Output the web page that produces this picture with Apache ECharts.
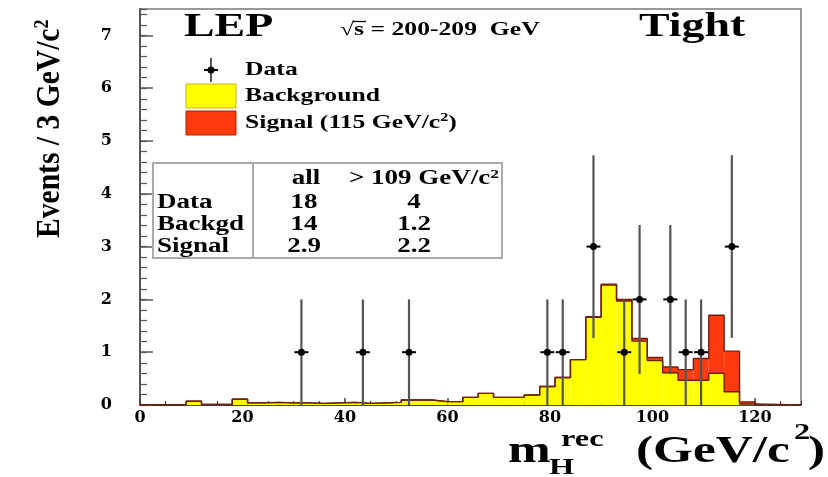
<!DOCTYPE html>
<html>
<head>
<meta charset="utf-8">
<title>LEP Higgs search – reconstructed mass, tight selection</title>
<script src="https://cdn.jsdelivr.net/npm/echarts@6/dist/echarts.min.js"></script>
<style>
  html, body { margin: 0; padding: 0; background: #fff; }
  #chart { width: 828px; height: 477px; }
</style>
</head>
<body>
<div id="chart"></div>
<script>
// Histogram bins (3 GeV/c^2 wide), given by their lower edges
const BIN_WIDTH = 3;
const binLow = [0, 3, 6, 9, 12, 15, 18, 21, 24, 27, 30, 33, 36, 39, 42, 45, 48, 51, 54, 57,
                60, 63, 66, 69, 72, 75, 78, 81, 84, 87, 90, 93, 96, 99, 102, 105, 108, 111, 114, 117];
// Expected background per bin
const background = [0, 0, 0, 0.07, 0.01, 0.01, 0.11, 0.04, 0.05, 0.04, 0.04, 0.03, 0.04, 0.05, 0.03, 0.04, 0.05, 0.095, 0.095, 0.063,
                    0.063, 0.145, 0.22, 0.145, 0.145, 0.19, 0.35, 0.52, 0.86, 1.66, 2.27, 1.97, 1.21, 0.84, 0.61, 0.47, 0.47, 0.60, 0.25, 0.02];
// Expected signal for m_H = 115 GeV/c^2, stacked on the background
const signal = [0, 0, 0, 0, 0, 0, 0, 0, 0, 0, 0, 0, 0, 0, 0, 0, 0, 0, 0, 0,
                0, 0, 0, 0, 0, 0, 0, 0, 0, 0.01, 0.02, 0.03, 0.05, 0.06, 0.11, 0.20, 0.41, 1.10, 0.77, 0.04];

// Observed candidates: bin centre, count and error bar ends
const dataMass  = [31.5, 43.5, 52.5, 79.5, 82.5, 88.5, 94.5, 97.5, 103.5, 106.5, 109.5, 115.5];
const dataCount = [1, 1, 1, 1, 1, 3, 1, 2, 2, 1, 1, 3];
const dataErrLo = [0, 0, 0, 0, 0, 1.27, 0, 0.59, 0.59, 0, 0, 1.27];
const dataErrHi = [2, 2, 2, 2, 2, 4.73, 2, 3.41, 3.41, 2, 2, 4.73];

// Axis tick labels
const xTickValues = [0, 20, 40, 60, 80, 100, 120];
const yTickValues = [0, 1, 2, 3, 4, 5, 6, 7];

// Summary table
const tableHeader = ['all', '> 109 GeV/c'];
const tableRows = ['Data', 'Backgd', 'Signal'];
const tableAll = ['18', '14', '2.9'];
const tableHigh = ['4', '1.2', '2.2'];

const YELLOW = '#ffff00';
const RED = '#ff3a0f';
const EDGE = '#6e2010';
const SERIF = '"Liberation Serif", "Times New Roman", serif';
const STRETCH = 1.35;

const bkgData = binLow.map((lo, i) => [lo, background[i]]);
const sigData = binLow.map((lo, i) => [lo, background[i], signal[i]]);
const lastEdge = binLow[binLow.length - 1] + BIN_WIDTH;
const bkgEdge = bkgData.concat([[lastEdge, 0], [129, 0]]);
const totEdge = binLow.map((lo, i) => [lo, background[i] + signal[i]]).concat([[lastEdge, 0], [129, 0]]);
const obsData = dataMass.map((m, i) => [m, dataCount[i], dataErrLo[i], dataErrHi[i]]);

function txt(text, x, y, size, opt) {
  opt = opt || {};
  return {
    type: 'text', x: x, y: y, scaleX: opt.scaleX || STRETCH, scaleY: 1, rotation: opt.rotation || 0,
    z: 100,
    style: {
      text: text, fill: '#000',
      font: 'bold ' + size + 'px ' + SERIF,
      textAlign: opt.align || 'left', textVerticalAlign: 'middle',
      rich: opt.rich
    }
  };
}

const sup = (s) => ({ fontSize: s, fontWeight: 'bold', fontFamily: SERIF, verticalAlign: 'top', lineHeight: s });

const graphics = [
  // Header texts
  txt('LEP', 184, 27, 34),
  txt('\u221As = 200-209  GeV', 340, 30, 19),
  { type: 'line', z: 100, shape: { x1: 353, y1: 21.5, x2: 366, y2: 21.5 }, style: { stroke: '#000', lineWidth: 1.3 } },
  txt('Tight', 639, 27, 34),

  // Legend
  { type: 'line', z: 100, shape: { x1: 211, y1: 58, x2: 211, y2: 82 }, style: { stroke: '#555', lineWidth: 2 } },
  { type: 'line', z: 100, shape: { x1: 204, y1: 70, x2: 218, y2: 70 }, style: { stroke: '#000', lineWidth: 2 } },
  { type: 'circle', z: 100, shape: { cx: 211, cy: 70, r: 3.5 }, style: { fill: '#000' } },
  { type: 'rect', z: 100, shape: { x: 186, y: 84, width: 50, height: 24 }, style: { fill: YELLOW, stroke: '#c8b800', lineWidth: 1 } },
  { type: 'rect', z: 100, shape: { x: 186, y: 111, width: 50, height: 24 }, style: { fill: RED, stroke: '#b02000', lineWidth: 1 } },
  txt('Data', 245, 70, 19),
  txt('Background', 245, 96, 19),
  txt('{a|Signal (115 GeV/c}{s|2}{a|)}', 245, 123, 19, {
    rich: { a: { fontSize: 19, fontWeight: 'bold', fontFamily: SERIF, lineHeight: 22 }, s: sup(12) }
  }),

  // Summary table
  { type: 'rect', z: 100, shape: { x: 153, y: 163, width: 349, height: 95 }, style: { fill: 'none', stroke: '#aaa', lineWidth: 2 } },
  { type: 'line', z: 100, shape: { x1: 253, y1: 163, x2: 253, y2: 258 }, style: { stroke: '#aaa', lineWidth: 2 } },
  txt(tableHeader[0], 306, 179, 20, { align: 'center' }),
  txt('{a|' + tableHeader[1] + '}{s|2}', 424, 179, 20, {
    align: 'center',
    rich: { a: { fontSize: 20, fontWeight: 'bold', fontFamily: SERIF, lineHeight: 22 }, s: sup(13) }
  })
];
tableRows.forEach((name, i) => {
  const y = 203 + i * 22;
  graphics.push(txt(name, 157, y, 20));
  graphics.push(txt(tableAll[i], 304, y, 20, { align: 'center' }));
  graphics.push(txt(tableHigh[i], 414, y, 20, { align: 'center' }));
});

// Axis titles
graphics.push(txt('{a|Events / 3 GeV/c}{s|2}', 50, 238, 34, {
  scaleX: 0.87, rotation: Math.PI / 2,
  rich: { a: { fontSize: 34, fontWeight: 'bold', fontFamily: SERIF, lineHeight: 36 }, s: sup(21) }
}));
graphics.push(txt('m', 508, 452, 38));
graphics.push(txt('H', 549, 468, 24));
graphics.push(txt('rec', 561, 440, 24));
graphics.push(txt('(GeV/c', 636, 452, 38));
graphics.push(txt('2', 794, 433, 24));
graphics.push(txt(')', 808, 452, 38));

const labelFont = { fontFamily: 'DejaVu Serif', fontWeight: 'bold', fontSize: 16, color: '#000' };

const option = {
  animation: false,
  backgroundColor: '#fff',
  grid: { left: 140, right: 27, top: 9, bottom: 72, show: true, borderColor: '#999', borderWidth: 2, backgroundColor: 'transparent' },
  xAxis: [
    {
      type: 'value', min: 0, max: 129, interval: 20, position: 'bottom',
      axisLine: { show: true, onZero: false, lineStyle: { color: '#444', width: 2 } },
      axisTick: { inside: true, length: 7, lineStyle: { color: '#444', width: 1.5 }, customValues: xTickValues },
      axisLabel: Object.assign({ margin: 5, customValues: xTickValues }, labelFont),
      splitLine: { show: false }
    },
    {
      type: 'value', min: 0, max: 129, interval: 5, position: 'bottom',
      axisLine: { show: false },
      axisTick: { inside: true, length: 4, lineStyle: { color: '#444', width: 1.2 } },
      axisLabel: { show: false },
      splitLine: { show: false }
    }
  ],
  yAxis: [
    {
      type: 'value', min: 0, max: 7.5, interval: 1, position: 'left',
      axisLine: { show: true, onZero: false, lineStyle: { color: '#555', width: 2 } },
      axisTick: { inside: true, length: 13, lineStyle: { color: '#555', width: 1.5 }, customValues: yTickValues },
      axisLabel: Object.assign({ margin: 28, customValues: yTickValues }, labelFont),
      splitLine: { show: false }
    },
    {
      type: 'value', min: 0, max: 7.5, interval: 0.2, position: 'left',
      axisLine: { show: false },
      axisTick: { inside: true, length: 7, lineStyle: { color: '#555', width: 1.2 } },
      axisLabel: { show: false },
      splitLine: { show: false }
    }
  ],
  series: [
    {
      name: 'Background', type: 'custom', xAxisIndex: 0, yAxisIndex: 0, z: 2,
      data: bkgData,
      renderItem: (params, api) => {
        const lo = api.value(0), h = api.value(1);
        const a = api.coord([lo, 0]), b = api.coord([lo + BIN_WIDTH, h]);
        return { type: 'rect', shape: { x: a[0], y: b[1], width: b[0] - a[0], height: a[1] - b[1] }, style: { fill: YELLOW } };
      }
    },
    {
      name: 'Signal (115 GeV/c2)', type: 'custom', xAxisIndex: 0, yAxisIndex: 0, z: 2,
      data: sigData,
      renderItem: (params, api) => {
        const lo = api.value(0), h0 = api.value(1), h1 = api.value(1) + api.value(2);
        const a = api.coord([lo, h0]), b = api.coord([lo + BIN_WIDTH, h1]);
        return { type: 'rect', shape: { x: a[0], y: b[1], width: b[0] - a[0], height: a[1] - b[1] }, style: { fill: RED } };
      }
    },
    {
      name: 'bkg-edge', type: 'line', step: 'end', xAxisIndex: 0, yAxisIndex: 0, z: 3,
      data: bkgEdge, symbol: 'none', lineStyle: { color: EDGE, width: 1.4 }, silent: true
    },
    {
      name: 'total-edge', type: 'line', step: 'end', xAxisIndex: 0, yAxisIndex: 0, z: 3,
      data: totEdge, symbol: 'none', lineStyle: { color: EDGE, width: 1.4 }, silent: true
    },
    {
      name: 'Data', type: 'custom', xAxisIndex: 0, yAxisIndex: 0, z: 5,
      data: obsData,
      renderItem: (params, api) => {
        const m = api.value(0), n = api.value(1);
        const p = api.coord([m, n]);
        const lo = api.coord([m, api.value(2)]), hi = api.coord([m, api.value(3)]);
        return {
          type: 'group',
          children: [
            { type: 'line', shape: { x1: p[0], y1: lo[1], x2: p[0], y2: hi[1] }, style: { stroke: '#555', lineWidth: 2.2 } },
            { type: 'line', shape: { x1: p[0] - 7, y1: p[1], x2: p[0] + 7, y2: p[1] }, style: { stroke: '#000', lineWidth: 2 } },
            { type: 'circle', shape: { cx: p[0], cy: p[1], r: 3.5 }, style: { fill: '#000' } }
          ]
        };
      }
    }
  ],
  graphic: graphics
};

const chart = echarts.init(document.getElementById('chart'), null, { renderer: 'canvas' });
chart.setOption(option);
</script>
</body>
</html>
